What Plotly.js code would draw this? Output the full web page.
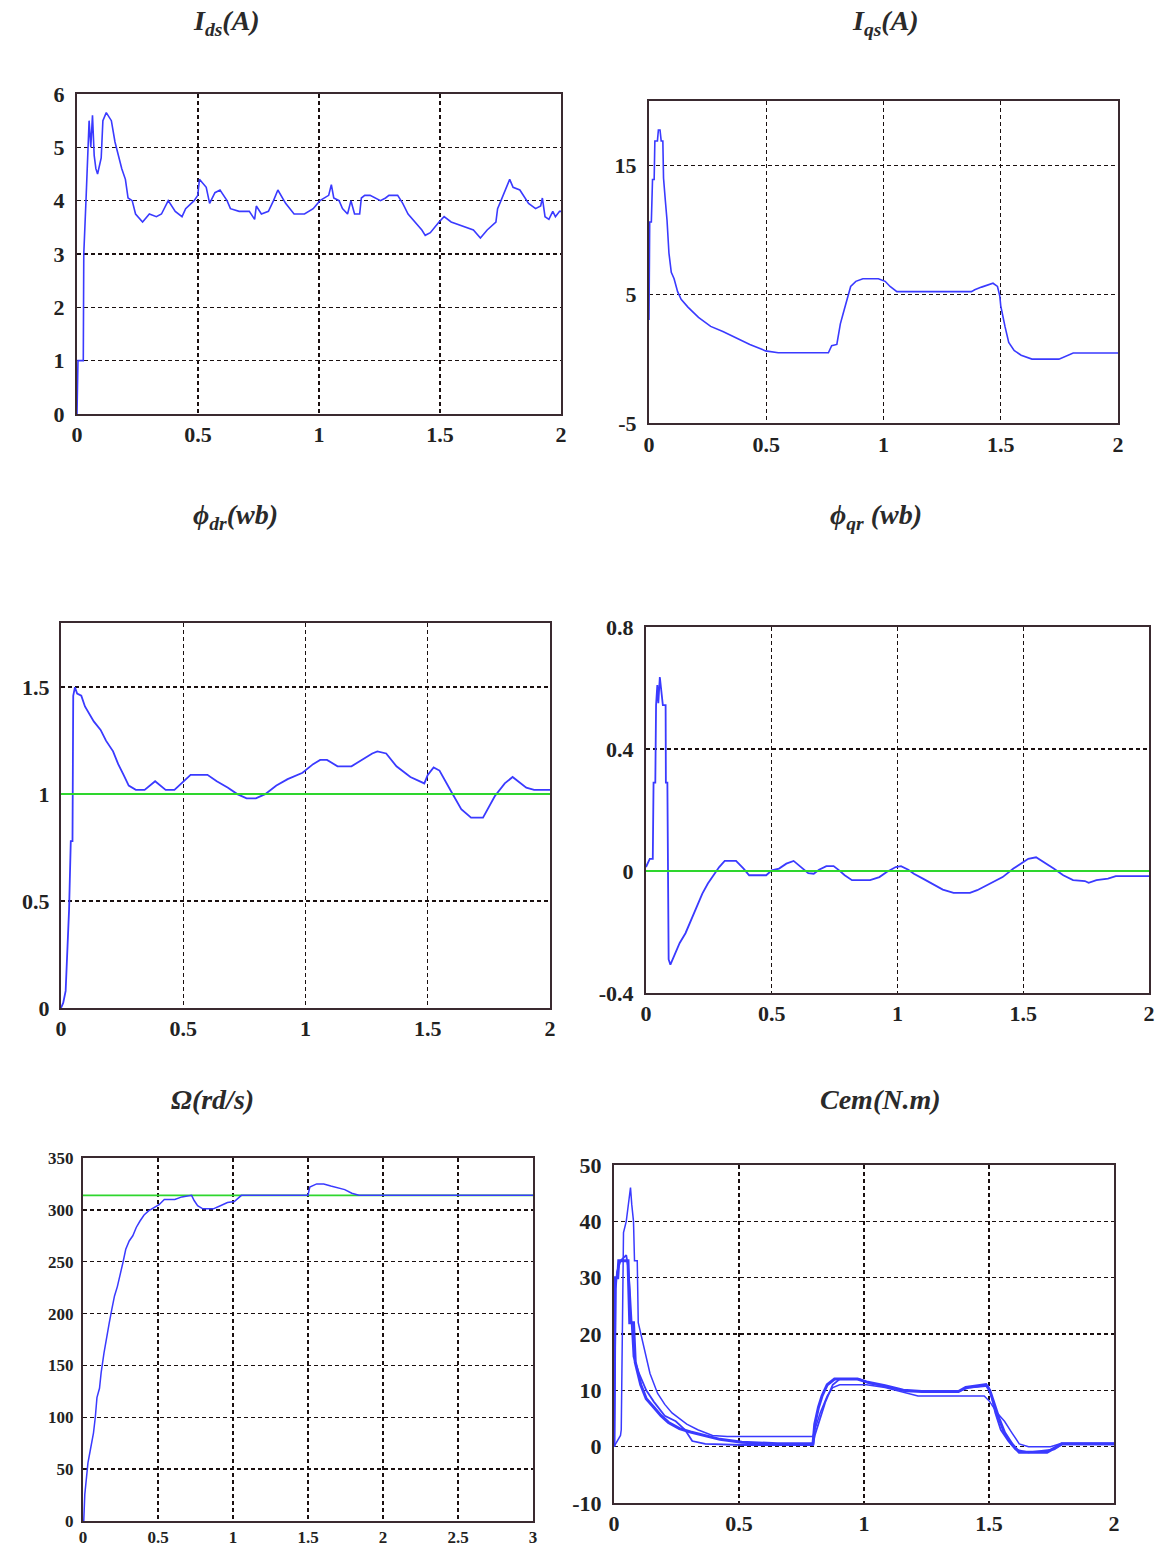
<!DOCTYPE html>
<html>
<head>
<meta charset="utf-8">
<script src="https://cdn.plot.ly/plotly-3.0.1.min.js"></script>
<style>html,body{margin:0;padding:0;background:#fff;}#chart{width:1162px;height:1551px;}</style>
</head>
<body>
<div id="chart"></div>
<script>
// ---------- Data (time in s) ----------
const tIds = [0,0.004,0.026,0.028,0.038,0.05,0.057,0.064,0.071,0.078,0.085,0.1,0.107,0.121,0.142,0.157,0.185,0.2,0.211,0.228,0.242,0.271,0.299,0.328,0.349,0.377,0.406,0.434,0.449,0.484,0.499,0.506,0.534,0.548,0.57,0.591,0.62,0.634,0.67,0.712,0.734,0.741,0.762,0.791,0.812,0.83,0.862,0.897,0.94,0.976,1.004,1.04,1.051,1.061,1.083,1.097,1.118,1.132,1.147,1.168,1.175,1.189,1.211,1.232,1.254,1.275,1.289,1.325,1.346,1.368,1.396,1.425,1.439,1.46,1.496,1.517,1.546,1.574,1.61,1.638,1.667,1.695,1.731,1.738,1.752,1.774,1.788,1.802,1.83,1.866,1.895,1.916,1.923,1.934,1.95,1.966,1.977,1.994,2.0];
const Ids = [0,1.0,1.0,3.0,4.1,5.5,5.0,5.6,4.85,4.6,4.5,4.8,5.5,5.65,5.5,5.1,4.6,4.4,4.05,4.0,3.75,3.6,3.75,3.7,3.75,4.0,3.8,3.7,3.85,4.0,4.1,4.4,4.25,3.95,4.15,4.2,4.0,3.85,3.8,3.8,3.65,3.9,3.75,3.8,4.0,4.2,3.95,3.75,3.75,3.85,4.0,4.1,4.3,4.05,4.0,3.85,3.75,4.0,3.75,3.75,4.05,4.1,4.1,4.05,4.0,4.05,4.1,4.1,3.95,3.75,3.6,3.45,3.35,3.4,3.6,3.7,3.6,3.55,3.5,3.45,3.3,3.45,3.6,3.85,4.0,4.25,4.4,4.25,4.2,3.95,3.85,3.9,4.05,3.7,3.65,3.8,3.7,3.8,3.8];

const tIqs = [0,0.003,0.01,0.015,0.022,0.025,0.036,0.04,0.047,0.052,0.059,0.062,0.07,0.077,0.085,0.095,0.107,0.122,0.137,0.166,0.211,0.263,0.315,0.371,0.43,0.497,0.551,0.765,0.779,0.801,0.809,0.816,0.828,0.838,0.849,0.86,0.882,0.912,0.978,1.007,1.028,1.057,1.375,1.389,1.418,1.446,1.467,1.486,1.496,1.5,1.511,1.518,1.534,1.557,1.587,1.633,1.748,1.771,1.809,2.0];
const Iqs = [3.0,10.6,10.6,13.9,13.9,16.9,16.9,17.75,17.75,16.9,16.9,14.0,12.2,10.7,8.2,6.7,6.2,5.2,4.6,4.0,3.2,2.5,2.1,1.6,1.1,0.6,0.45,0.45,1.0,1.1,2.0,2.7,3.5,4.2,5.0,5.6,6.0,6.2,6.2,6.0,5.6,5.2,5.2,5.35,5.55,5.7,5.85,5.6,4.85,4.1,3.0,2.5,1.25,0.63,0.26,-0.04,-0.04,0.14,0.43,0.43];

const tPhiDr = [0,0.009,0.019,0.026,0.033,0.04,0.047,0.05,0.057,0.066,0.083,0.098,0.112,0.134,0.162,0.184,0.213,0.234,0.256,0.277,0.306,0.342,0.385,0.428,0.464,0.5,0.53,0.599,0.637,0.683,0.721,0.759,0.797,0.835,0.881,0.927,0.988,1.031,1.06,1.088,1.131,1.188,1.23,1.273,1.294,1.33,1.372,1.429,1.486,1.5,1.524,1.548,1.597,1.637,1.677,1.726,1.774,1.815,1.847,1.903,1.935,2.0];
const PhiDr = [0,0.024,0.08,0.24,0.46,0.78,0.78,1.46,1.5,1.47,1.46,1.41,1.38,1.34,1.30,1.25,1.2,1.14,1.09,1.04,1.02,1.02,1.06,1.02,1.02,1.06,1.09,1.09,1.06,1.03,1.0,0.98,0.98,1.0,1.04,1.07,1.10,1.14,1.16,1.16,1.13,1.13,1.16,1.19,1.2,1.19,1.13,1.08,1.05,1.09,1.125,1.11,1.01,0.93,0.89,0.89,0.99,1.05,1.08,1.03,1.02,1.02];
const PhiDrRef = [1, 1];

const tPhiQr = [0,0.007,0.015,0.027,0.03,0.037,0.04,0.045,0.049,0.055,0.061,0.067,0.078,0.079,0.085,0.09,0.097,0.112,0.134,0.157,0.179,0.201,0.224,0.246,0.269,0.291,0.313,0.358,0.388,0.41,0.478,0.5,0.529,0.558,0.587,0.616,0.645,0.667,0.688,0.717,0.746,0.768,0.79,0.819,0.891,0.928,0.957,0.993,1.014,1.043,1.065,1.101,1.137,1.18,1.223,1.288,1.317,1.367,1.418,1.461,1.497,1.52,1.551,1.582,1.621,1.659,1.698,1.745,1.76,1.791,1.837,1.868,2.0];
const PhiQr = [0.013,0.024,0.04,0.04,0.29,0.29,0.544,0.61,0.55,0.636,0.588,0.544,0.544,0.29,0.29,-0.29,-0.307,-0.28,-0.236,-0.204,-0.16,-0.117,-0.074,-0.041,-0.014,0.013,0.033,0.033,0.008,-0.014,-0.014,0.002,0.008,0.024,0.033,0.013,-0.007,-0.009,0.004,0.016,0.016,0.002,-0.014,-0.03,-0.03,-0.02,-0.003,0.013,0.016,0.004,-0.009,-0.025,-0.041,-0.061,-0.072,-0.072,-0.063,-0.041,-0.02,0.008,0.029,0.04,0.045,0.029,0.008,-0.014,-0.03,-0.033,-0.039,-0.03,-0.025,-0.017,-0.017];
const PhiQrRef = [0, 0];

const tOmega = [0,0.005,0.012,0.023,0.033,0.047,0.058,0.07,0.082,0.093,0.11,0.121,0.14,0.157,0.175,0.192,0.21,0.229,0.25,0.266,0.285,0.308,0.332,0.355,0.379,0.407,0.437,0.472,0.507,0.542,0.612,0.659,0.706,0.724,0.741,0.764,0.799,0.869,0.916,0.963,1.009,1.056,1.5,1.512,1.558,1.605,1.652,1.699,1.745,1.792,1.839,3.0];
const Omega = [0,0,25.7,40,56,67,75,85,100,119,128,143,162,178,191,204,217,226,241,249,262,270,275,283,289,295,299,302,305,310,310,312.5,314,314,309,304,301,301,304,307,308,314,314,322,325,325,323,321,319.5,316,314,314];
const OmegaRef = [314, 314];

const tCemA = [0,0.004,0.015,0.019,0.056,0.063,0.078,0.085,0.107,0.129,0.159,0.188,0.218,0.262,0.306,0.365,0.424,0.511,0.654,0.796,0.803,0.818,0.832,0.853,0.882,0.974,1.01,1.084,1.157,1.231,1.378,1.407,1.488,1.503,1.518,1.54,1.562,1.591,1.621,1.732,1.791,2.0];
const CemA = [0,30,30,33,33,22,22,15,11,8.5,7,5.5,4.3,3.2,2.6,2,1.3,0.8,0.5,0.5,4,7,9,11,12,12,11.5,10.8,10,9.8,9.8,10.5,11,10,8,5,2.5,0.5,-1,-1,0.5,0.5];
const tCemB = [0,0.026,0.029,0.034,0.038,0.049,0.059,0.066,0.071,0.078,0.082,0.093,0.097,0.107,0.122,0.144,0.174,0.203,0.232,0.262,0.291,0.335,0.394,0.453,0.796,0.803,0.825,0.853,0.875,0.903,1.01,1.084,1.172,1.216,1.481,1.503,1.532,1.562,1.591,1.621,1.658,1.746,1.791,2.0];
const CemB = [0,2,3,30,38,40,43,46,43,40,33,33,22,20,17,13,9.5,7.5,6,5,4,3,2,1.8,1.8,3,6,9,10.5,11,11,10.5,9.5,9,9,8,6,4.5,2.5,0.5,0,0,0.6,0.6];
const tCemC = [0,0.003,0.007,0.012,0.026,0.049,0.056,0.063,0.071,0.078,0.1,0.129,0.159,0.203,0.247,0.284,0.313,0.365,0.511,0.796,0.803,0.825,0.846,0.875,0.903,0.981,1.025,1.113,1.172,1.378,1.422,1.496,1.51,1.525,1.547,1.577,1.606,1.658,1.761,1.791,2.0];
const CemC = [0,15,28,31,33,34,32,28,20,16,13,10,8,5.5,4.5,3,1,0.5,0.3,0.3,2,5,8,11,12,12,11.2,10.5,9.8,9.8,10.5,10.8,9,6,3,1,-0.5,-1,-0.5,0.4,0.4];

// Titles and ticks
const titles = ['<b><i>I<sub>ds</sub>(A)</i></b>','<b><i>I<sub>qs</sub>(A)</i></b>','<b><i>ϕ<sub>dr</sub>(wb)</i></b>','<b><i>ϕ<sub>qr</sub> (wb)</i></b>','<b><i>Ω(rd/s)</i></b>','<b><i>Cem(N.m)</i></b>'];
const xTicks2 = [0,0.5,1,1.5,2];
const xTickText2 = ['0','0.5','1','1.5','2'];
const xTicks3 = [0,0.5,1,1.5,2,2.5,3];
const xTickText3 = ['0','0.5','1','1.5','2','2.5','3'];
const yTicksIds = [0,1,2,3,4,5,6];
const yTicksIqs = [-5,5,15];
const yTicksPhiDr = [0,0.5,1,1.5];
const yTicksPhiQr = [-0.4,0,0.4,0.8];
const yTicksOmega = [0,50,100,150,200,250,300,350];
const yTicksCem = [-10,0,10,20,30,40,50];

// ---------- Styling ----------
const BLUE = '#3a3aff', GREEN = '#2ed62e', FRAME = '#3a2a30', GRID = '#1a1010';
const SERIF = 'Liberation Serif, Times New Roman, serif';

function axis(domain, range, tickvals, ticktext, anchor, fs, standoff){
  return {
    domain: domain, range: range, anchor: anchor,
    tickmode: 'array', tickvals: tickvals, ticktext: ticktext,
    showgrid: true, gridcolor: GRID, gridwidth: 1.4, griddash: '4px,3px',
    zeroline: false, showline: true, mirror: true, linecolor: FRAME, linewidth: 2,
    ticks: '', ticklabelstandoff: standoff,
    tickfont: {family: SERIF, size: fs, color: '#222', weight: 'bold'}
  };
}
const fmt = a => a.map(v => String(v));

const W = 1162, H = 1551;
const px = (a,b) => [a/W, b/W];
const py = (top,bot) => [1 - bot/H, 1 - top/H];

const traces = [
  {x: tIds, y: Ids, xaxis:'x', yaxis:'y', mode:'lines', line:{color:BLUE, width:1.6}},
  {x: tIqs, y: Iqs, xaxis:'x2', yaxis:'y2', mode:'lines', line:{color:BLUE, width:1.6}},
  {x: tPhiDr, y: PhiDr, xaxis:'x3', yaxis:'y3', mode:'lines', line:{color:BLUE, width:1.8}},
  {x: [0,2], y: PhiDrRef, xaxis:'x3', yaxis:'y3', mode:'lines', line:{color:GREEN, width:2}},
  {x: tPhiQr, y: PhiQr, xaxis:'x4', yaxis:'y4', mode:'lines', line:{color:BLUE, width:1.8}},
  {x: [0,2], y: PhiQrRef, xaxis:'x4', yaxis:'y4', mode:'lines', line:{color:GREEN, width:2}},
  {x: [0,3], y: OmegaRef, xaxis:'x5', yaxis:'y5', mode:'lines', line:{color:GREEN, width:1.8}},
  {x: tOmega, y: Omega, xaxis:'x5', yaxis:'y5', mode:'lines', line:{color:BLUE, width:1.5}},
  {x: tCemA, y: CemA, xaxis:'x6', yaxis:'y6', mode:'lines', line:{color:BLUE, width:3}},
  {x: tCemB, y: CemB, xaxis:'x6', yaxis:'y6', mode:'lines', line:{color:BLUE, width:1.5}},
  {x: tCemC, y: CemC, xaxis:'x6', yaxis:'y6', mode:'lines', line:{color:BLUE, width:1.8}}
];

const layout = {
  width: W, height: H, showlegend: false,
  margin: {l:0, r:0, t:0, b:0},
  paper_bgcolor: '#fff', plot_bgcolor: '#fff',
  xaxis:  axis(px(77,561),  [0,2], xTicks2, xTickText2, 'y', 22, 0),
  yaxis:  axis(py(94,414),  [0,6], yTicksIds, fmt(yTicksIds), 'x', 22, 6),
  xaxis2: axis(px(649,1118),[0,2], xTicks2, xTickText2, 'y2', 22, 1),
  yaxis2: axis(py(101,423), [-5,20], yTicksIqs, fmt(yTicksIqs), 'x2', 22, 6),
  xaxis3: axis(px(61,550),  [0,2], xTicks2, xTickText2, 'y3', 22, 0),
  yaxis3: axis(py(623,1008),[0,1.8], yTicksPhiDr, fmt(yTicksPhiDr), 'x3', 22, 5),
  xaxis4: axis(px(646,1149),[0,2], xTicks2, xTickText2, 'y4', 22, 0),
  yaxis4: axis(py(627,993), [-0.4,0.8], yTicksPhiQr, fmt(yTicksPhiQr), 'x4', 22, 6),
  xaxis5: axis(px(83,533),  [0,3], xTicks3, xTickText3, 'y5', 17, 0),
  yaxis5: axis(py(1158,1521),[0,350], yTicksOmega, fmt(yTicksOmega), 'x5', 17, 4),
  xaxis6: axis(px(614,1114),[0,2], xTicks2, xTickText2, 'y6', 22, 0),
  yaxis6: axis(py(1165,1503),[-10,50], yTicksCem, fmt(yTicksCem), 'x6', 22, 6),
  annotations: [
    [226, 22], [885, 22], [235, 516], [876, 516], [212, 1099], [880, 1099]
  ].map((p,i) => ({
    text: titles[i], xref:'paper', yref:'paper', x: p[0]/W, y: 1 - p[1]/H,
    xanchor:'center', yanchor:'middle', showarrow:false,
    font:{family: SERIF, size: 28, color:'#2a2a2a'}
  }))
};

Plotly.newPlot('chart', traces, layout, {staticPlot:true, displayModeBar:false});
</script>
</body>
</html>
